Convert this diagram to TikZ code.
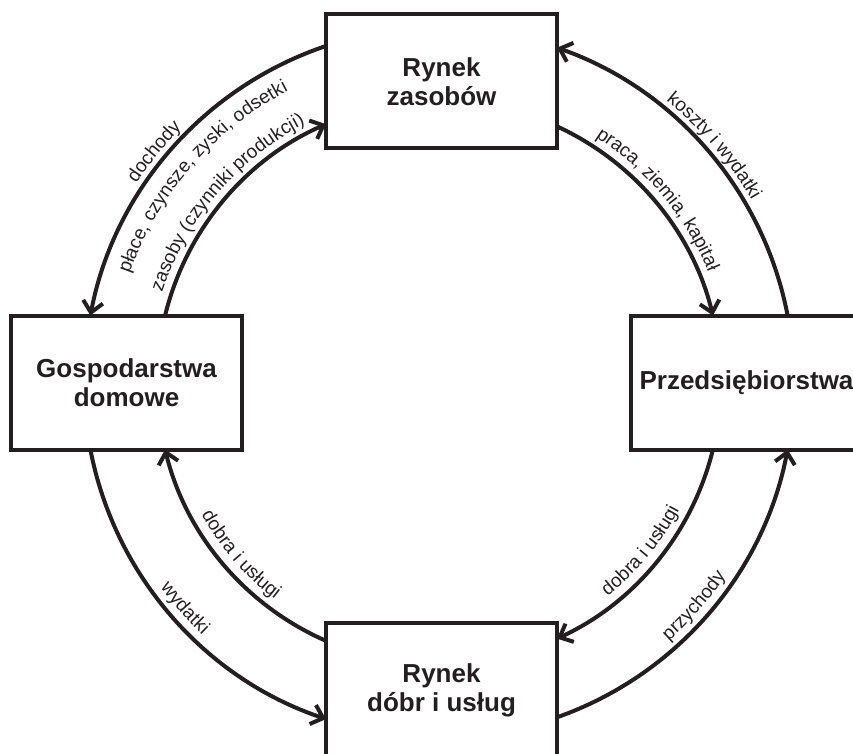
\documentclass[tikz,border=0pt]{standalone}
\usepackage{fontspec}
\setmainfont{Liberation Sans}
\usetikzlibrary{arrows.meta,decorations.text}
\definecolor{ink}{RGB}{35,31,32}
\newcommand\lblfont{\fontsize{19}{21}\selectfont}
\newcommand\cwlabel[3]{\path[decorate,decoration={text along path,text align=center,text={|\lblfont\color{ink}|#3}}] ([shift={({#1+45}:#2)}]C) arc[start angle={#1+45}, end angle={#1-45}, radius=#2];}
\newcommand\ccwlabel[3]{\path[decorate,decoration={text along path,text align=center,text={|\lblfont\color{ink}|#3}}] ([shift={({#1-45}:#2)}]C) arc[start angle={#1-45}, end angle={#1+45}, radius=#2];}
\begin{document}
\begin{tikzpicture}[x=1pt,y=1pt,
  flow/.style={draw=ink,line width=4pt,-{Straight Barb[length=11pt,width=20pt]}},
  box/.style={draw=ink,line width=4pt,fill=white,minimum width=231pt,minimum height=134pt,inner sep=0pt,align=center,text=ink,font=\fontsize{26}{29}\selectfont\bfseries}]
\useasboundingbox (0,0) rectangle (853,-754);
\clip (0,0) rectangle (853,-754);
\coordinate (C) at (439,-382.5);
% top-left
\draw[flow] ([shift={(108.56:355pt)}]C) arc[start angle=108.56,end angle=169.12,radius=355pt];
\draw[flow] ([shift={(166.26:282pt)}]C) arc[start angle=166.26,end angle=113.62,radius=282pt];
% top-right
\draw[flow] ([shift={(10.88:355pt)}]C) arc[start angle=10.88,end angle=70.59,radius=355pt];
\draw[flow] ([shift={(65.27:282pt)}]C) arc[start angle=65.27,end angle=13.74,radius=282pt];
% bottom-right
\draw[flow] ([shift={(-13.74:282pt)}]C) arc[start angle=-13.74,end angle=-65.27,radius=282pt];
\draw[flow] ([shift={(-70.59:355pt)}]C) arc[start angle=-70.59,end angle=-10.88,radius=355pt];
% bottom-left
\draw[flow] ([shift={(190.88:355pt)}]C) arc[start angle=190.88,end angle=251.44,radius=355pt];
\draw[flow] ([shift={(246.38:282pt)}]C) arc[start angle=246.38,end angle=193.74,radius=282pt];
% boxes
\node[box] (zas) at (441.5,-81.5) {Rynek\\zasobów};
\node[box] (gosp) at (126.5,-382.5) {Gospodarstwa\\domowe};
\node[box] (przed) at (746.5,-382.5) {Przedsiębiorstwa};
\node[box] (dobr) at (441.5,-690) {Rynek\\dóbr i usług};
% labels
\cwlabel{141}{362pt}{dochody}
\cwlabel{139}{328pt}{płace, czynsze, zyski, odsetki}
\cwlabel{139.7}{291pt}{zasoby (czynniki produkcji)}
\cwlabel{40.7}{362pt}{koszty i wydatki}
\cwlabel{39.9}{291pt}{praca, ziemia, kapitał}
\ccwlabel{221}{272pt}{dobra i usługi}
\ccwlabel{221.6}{346pt}{wydatki}
\ccwlabel{-39.8}{272pt}{dobra i usługi}
\ccwlabel{-41.2}{346pt}{przychody}
\end{tikzpicture}
\end{document}
